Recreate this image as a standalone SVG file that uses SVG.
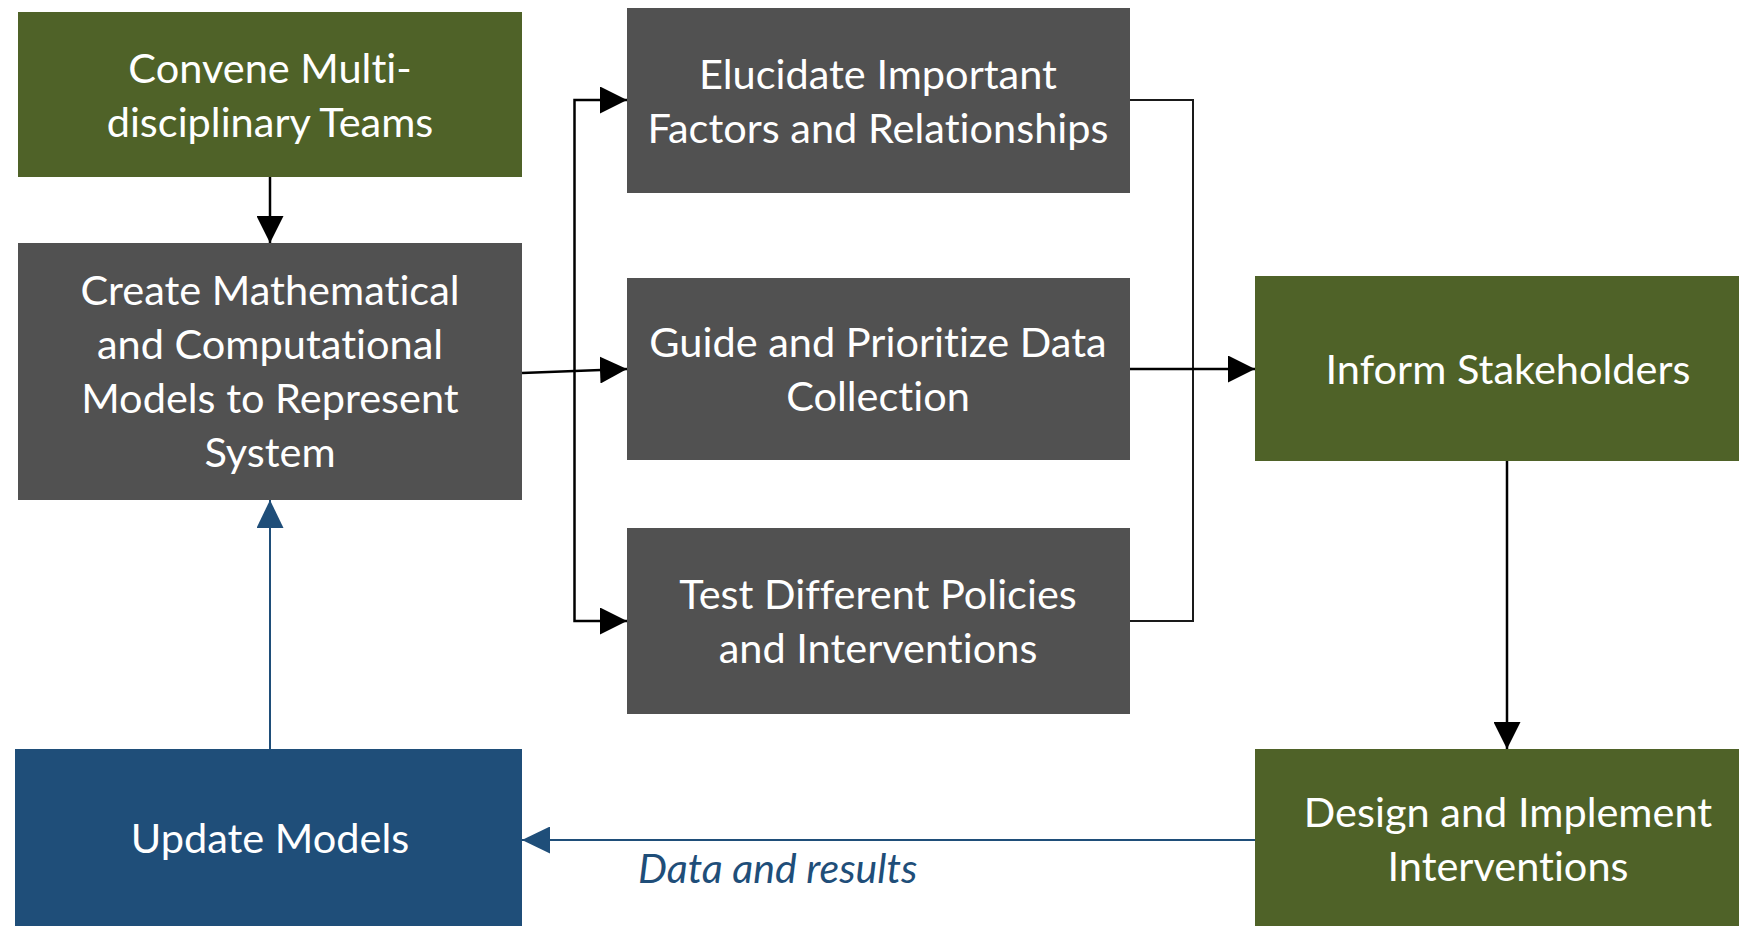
<svg xmlns="http://www.w3.org/2000/svg" width="1739" height="926" viewBox="0 0 1739 926">
  <style>
    .box-green { fill: #4F6228; }
    .box-gray { fill: #515151; }
    .box-blue { fill: #1F4E79; }
    .label { font-family: Lato, "Open Sans", "Liberation Sans", sans-serif; font-size: 41.5px; fill: #ffffff; text-anchor: middle; font-variant-ligatures: none; }
    .wire { fill: none; stroke: #000000; stroke-width: 2.5; }
    .wire-thin { fill: none; stroke: #1a1a1a; stroke-width: 2; }
    .wire-blue { fill: none; stroke: #1F4E79; stroke-width: 2; }
    .note { font-family: Lato, "Open Sans", "Liberation Sans", sans-serif; font-size: 41px; font-style: italic; fill: #1F4E79; font-variant-ligatures: none; }
  </style>
  <defs>
    <marker id="head" markerUnits="userSpaceOnUse" markerWidth="27" markerHeight="27" refX="27" refY="13.5" orient="auto">
      <path d="M0,0 L27,13.5 L0,27 Z" fill="#000000"/>
    </marker>
    <marker id="head-blue" markerUnits="userSpaceOnUse" markerWidth="28" markerHeight="27" refX="28" refY="13.5" orient="auto">
      <path d="M0,0 L28,13.5 L0,27 Z" fill="#1F4E79"/>
    </marker>
  </defs>

  <rect width="1739" height="926" fill="#ffffff"/>

  <g id="convene">
    <rect class="box-green" x="18" y="12" width="504" height="165"/>
    <text class="label" x="270" y="83">Convene Multi-</text>
    <text class="label" x="270" y="137">disciplinary Teams</text>
  </g>

  <g id="create-models">
    <rect class="box-gray" x="18" y="243" width="504" height="257"/>
    <text class="label" x="270" y="305">Create Mathematical</text>
    <text class="label" x="270" y="359">and Computational</text>
    <text class="label" x="270" y="413">Models to Represent</text>
    <text class="label" x="270" y="467">System</text>
  </g>

  <g id="elucidate">
    <rect class="box-gray" x="627" y="8" width="503" height="185"/>
    <text class="label" x="878" y="89">Elucidate Important</text>
    <text class="label" x="878" y="143">Factors and Relationships</text>
  </g>

  <g id="guide-data">
    <rect class="box-gray" x="627" y="278" width="503" height="182"/>
    <text class="label" x="878" y="357">Guide and Prioritize Data</text>
    <text class="label" x="878" y="411">Collection</text>
  </g>

  <g id="test-policies">
    <rect class="box-gray" x="627" y="528" width="503" height="186"/>
    <text class="label" x="878" y="609">Test Different Policies</text>
    <text class="label" x="878" y="663">and Interventions</text>
  </g>

  <g id="inform">
    <rect class="box-green" x="1255" y="276" width="504" height="185"/>
    <text class="label" x="1508" y="384">Inform Stakeholders</text>
  </g>

  <g id="design">
    <rect class="box-green" x="1255" y="749" width="504" height="190"/>
    <text class="label" x="1508" y="827">Design and Implement</text>
    <text class="label" x="1508" y="881">Interventions</text>
  </g>

  <g id="update-models">
    <rect class="box-blue" x="15" y="749" width="507" height="190"/>
    <text class="label" x="270" y="853">Update Models</text>
  </g>

  <g id="connectors">
    <!-- team formation feeds modelling -->
    <line class="wire" x1="270" y1="177" x2="270" y2="243" marker-end="url(#head)"/>
    <!-- models fan out to three uses -->
    <line class="wire" x1="522" y1="373" x2="627" y2="369" marker-end="url(#head)"/>
    <polyline class="wire" points="574.5,369 574.5,100 627,100" marker-end="url(#head)"/>
    <polyline class="wire" points="574.5,369 574.5,621 627,621" marker-end="url(#head)"/>
    <!-- uses gather into stakeholder input -->
    <polyline class="wire-thin" points="1130,100 1193,100 1193,621 1130,621"/>
    <line class="wire" x1="1130" y1="369" x2="1255" y2="369" marker-end="url(#head)"/>
    <line class="wire" x1="1507" y1="461" x2="1507" y2="749" marker-end="url(#head)"/>
    <!-- feedback loop -->
    <line class="wire-blue" x1="1255" y1="840" x2="522" y2="840" marker-end="url(#head-blue)"/>
    <line class="wire-blue" x1="270" y1="749" x2="270" y2="500" marker-end="url(#head-blue)"/>
    <text class="note" x="638" y="883">Data and results</text>
  </g>
</svg>
